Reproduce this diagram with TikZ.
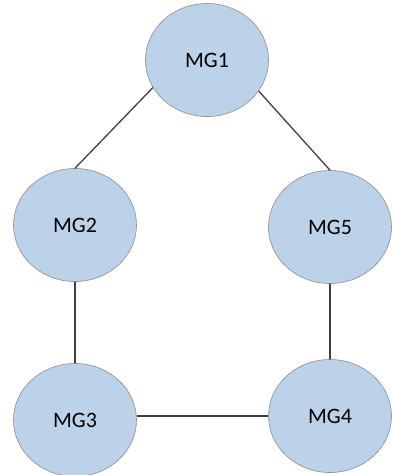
\documentclass[tikz,border=0pt]{standalone}
\usepackage{fontspec}
\setmainfont{Carlito}
\usetikzlibrary{shapes.geometric}
\definecolor{gridblue}{HTML}{BCD2E8}
\definecolor{gridrim}{HTML}{8C8C8C}

\begin{document}
\begin{tikzpicture}[x=1pt,y=-1pt,
  mg/.style={ellipse, draw=gridrim, fill=gridblue, line width=0.6pt,
    minimum width=123pt, minimum height=113pt, inner sep=0pt,
    font=\fontsize{22}{26}\selectfont},
  tie/.style={draw=black!75, line width=1.3pt}]
  %
  \useasboundingbox (0,0) rectangle (393,475);

  \node[mg] (MG1) at (207, 60) {MG1};
  \node[mg] (MG2) at ( 75,225) {MG2};
  \node[mg] (MG5) at (330,227) {MG5};
  \node[mg] (MG3) at ( 75,420) {MG3};
  \node[mg] (MG4) at (330,416) {MG4};

  \draw[tie] (MG1.207) -- (MG2.north);
  \draw[tie] (MG1.329) -- (MG5.north);
  \draw[tie] (MG2) -- (MG3);
  \draw[tie] (MG5) -- (MG4);
  \draw[tie] (MG3.east |- MG4.west) -- (MG4.west);

\end{tikzpicture}
\end{document}
